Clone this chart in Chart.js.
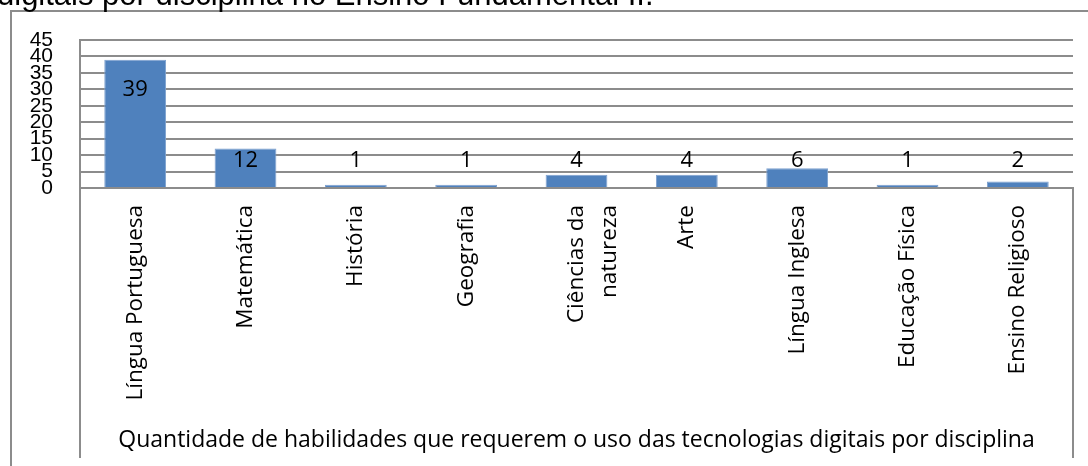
<!DOCTYPE html>
<html>
<head>
<meta charset="utf-8">
<script src="https://cdn.jsdelivr.net/npm/chart.js@4"></script>
<style>
  html, body { margin: 0; padding: 0; background: #fff; overflow: hidden; }
  #wrap { position: relative; width: 1088px; height: 466px; overflow: hidden; }
  #legenda { position: absolute; left: -3px; top: -21px; line-height: 31px; font-size: 31px;
             font-family: "Liberation Sans", Arial, sans-serif; white-space: nowrap; color: #000; }
  canvas { position: absolute; left: 0; top: 0; }
</style>
</head>
<body>
<div id="wrap">
  <canvas id="grafico" width="1088" height="466"></canvas>
  <div id="legenda"></div>
</div>
<script>
// dados
const disciplinas = ['Língua Portuguesa', 'Matemática', 'História', 'Geografia',
    ['Ciências da', 'natureza'], 'Arte', 'Língua Inglesa', 'Educação Física', 'Ensino Religioso'];
const habilidades = [39, 12, 1, 1, 4, 4, 6, 1, 2];
const eixoY = { min: 0, max: 45, passo: 5 };
const tituloEixo = 'Quantidade de habilidades que requerem o uso das tecnologias digitais por disciplina';
const legendaTopo = 'digitais por disciplina no Ensino Fundamental II.';

const cinza = '#8c8c8c';
const azul = '#4f81bd';

document.getElementById('legenda').textContent = legendaTopo;

// moldura externa + caixa das categorias abaixo do eixo
const moldura = {
    id: 'moldura',
    beforeDraw: function (chart) {
        const ctx = chart.ctx;
        const area = chart.chartArea;
        const xs = chart.scales.x;
        ctx.save();
        ctx.strokeStyle = cinza;
        ctx.lineWidth = 2;
        ctx.strokeRect(11, 11, chart.width + 20, chart.height + 20);
        ctx.beginPath();
        ctx.moveTo(area.left, area.bottom);
        ctx.lineTo(area.left, xs.bottom);
        ctx.moveTo(area.right, area.bottom);
        ctx.lineTo(area.right, xs.bottom);
        ctx.stroke();
        ctx.restore();
    }
};

// rotulos de valor das barras
const rotulos = {
    id: 'rotulos',
    afterDatasetsDraw: function (chart) {
        const ctx = chart.ctx;
        const meta = chart.getDatasetMeta(0);
        ctx.save();
        ctx.font = '22px "Open Sans", sans-serif';
        ctx.fillStyle = '#000';
        ctx.textAlign = 'center';
        ctx.textBaseline = 'middle';
        meta.data.forEach(function (bar, i) {
            const y = Math.min(bar.y + 30, bar.base - 26);
            ctx.fillText(String(habilidades[i]), bar.x, y);
        });
        ctx.restore();
    }
};

new Chart(document.getElementById('grafico').getContext('2d'), {
    type: 'bar',
    data: {
        labels: disciplinas,
        datasets: [{
            data: habilidades,
            backgroundColor: azul,
            borderColor: '#7ea1cf',
            borderWidth: 1,
            barPercentage: 0.56,
            categoryPercentage: 1
        }]
    },
    options: {
        responsive: false,
        animation: false,
        layout: { padding: { left: 0, right: 15, top: 40, bottom: 8 } },
        plugins: { legend: { display: false }, tooltip: { enabled: false } },
        scales: {
            x: {
                grid: { display: false },
                border: { display: true, color: cinza, width: 2 },
                ticks: {
                    minRotation: 90, maxRotation: 90, autoSkip: false, padding: 9,
                    color: '#000', font: { family: 'Open Sans', size: 22.5, lineHeight: 1.45 }
                },
                title: {
                    display: true, text: tituloEixo, color: '#000',
                    font: { family: 'Open Sans', size: 23 },
                    padding: { top: 0, bottom: 4 }
                },
                afterFit: function (s) { s.height = 270; }
            },
            y: {
                min: eixoY.min, max: eixoY.max,
                ticks: {
                    stepSize: eixoY.passo, padding: 27, autoSkip: false, color: '#000',
                    font: { family: 'Liberation Sans', size: 21, lineHeight: 1 }
                },
                grid: { color: cinza, lineWidth: 2, drawTicks: false },
                border: { display: true, color: cinza, width: 2 },
                afterFit: function (s) { s.width = 80; }
            }
        }
    },
    plugins: [moldura, rotulos]
});
</script>
</body>
</html>
